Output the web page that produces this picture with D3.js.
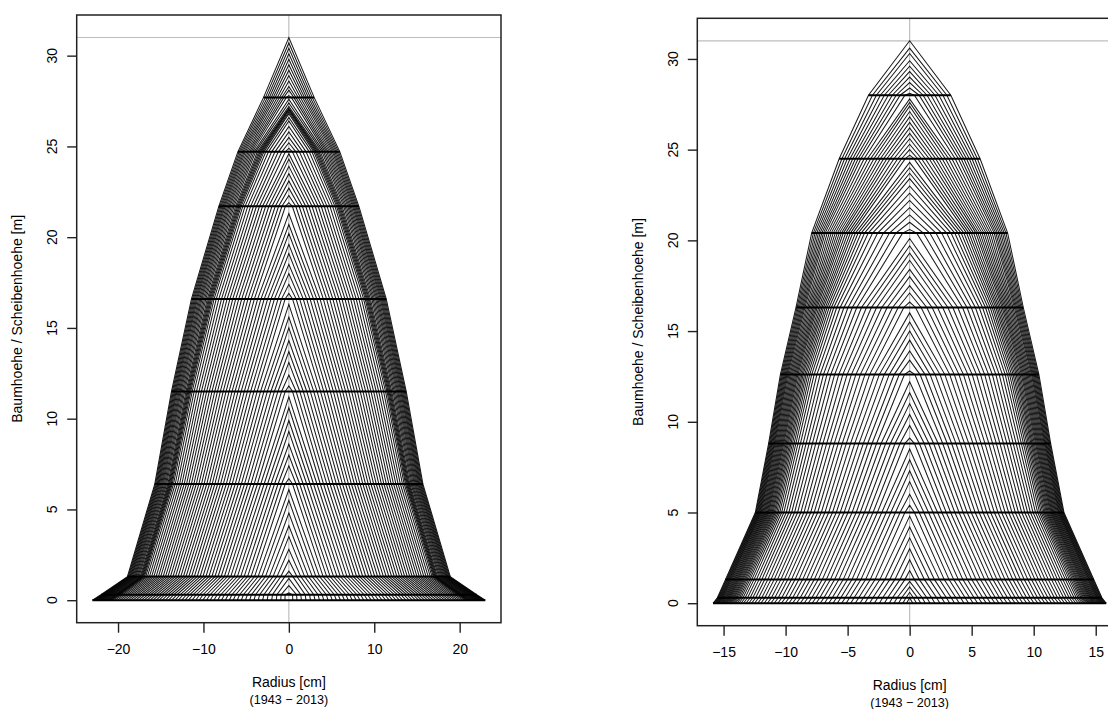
<!doctype html>
<html>
<head>
<meta charset="utf-8">
<style>
  body { margin: 0; background: #fff; }
  text { font-family: "Liberation Sans", Arial, sans-serif; fill: #000; }
</style>
<script src="https://d3js.org/d3.v7.min.js"></script>
</head>
<body>
<svg width="1108" height="709"></svg>
<script>

// years of the ring series (1943 - 2013)
var years = d3.range(1943, 2014);

// left tree: disk heights [m] and final disk radii [cm]
var leftDiskHeights = [0, 0.3, 1.3, 6.4, 11.5, 16.6, 21.7, 24.7, 27.7];
var leftDiskRadii   = [23.0, 22.0, 18.9, 15.7, 13.74, 11.4, 8.2, 5.97, 2.96];
// tree height per year [m]
var leftTreeHeights = [
  0.4, 0.8, 1.2,
  1.6, 2.2, 2.8, 3.5, 4.1, 4.8, 5.5, 6.1,
  6.7, 7.4, 8.0, 8.6, 9.3, 9.9, 10.6, 11.2,
  11.8, 12.4, 13.1, 13.7, 14.3, 15.0, 15.6, 16.3,
  16.9, 17.4, 18.0, 18.5, 19.1, 19.6, 20.2, 20.7, 21.3,
  21.9, 22.3, 22.7, 23.1, 23.5, 23.9, 24.3, 24.6,
  24.9, 25.2, 25.5, 25.8, 26.1, 26.4, 26.6, 26.8,
  26.9, 27.0, 27.05, 27.1, 27.2,
  27.4, 27.6, 27.8, 28.1, 28.3, 28.6, 28.9, 29.2, 29.5, 29.8, 30.1, 30.4, 30.7, 31.0
];
// ring width index per year [mm]
var leftRingWidths = [
  3.0, 3.2, 3.4,
  3.5, 3.5, 3.4, 3.4, 3.3, 3.3, 3.2, 3.2,
  3.1, 3.1, 3.0, 3.0, 3.0, 2.9, 2.9, 2.9,
  2.8, 2.8, 2.8, 2.7, 2.7, 2.7, 2.6, 2.6,
  2.6, 2.5, 2.5, 2.5, 2.4, 2.4, 2.4, 2.3, 2.3,
  2.3, 2.3, 2.2, 2.2, 2.2, 2.1, 2.1, 2.1,
  2.0, 2.0, 2.0, 1.9, 1.9, 1.8, 1.5, 1.1,
  0.8, 0.7, 0.7, 0.7, 0.8,
  1.0, 0.9, 0.9, 0.9, 0.8, 0.8, 0.8, 0.8, 0.7, 0.7, 0.7, 0.7, 0.7, 0.7
];
var leftXTicks = [-20, -10, 0, 10, 20];

// right tree
var rightDiskHeights = [0, 0.3, 1.3, 5.0, 8.8, 12.6, 16.3, 20.4, 24.5, 28.0];
var rightDiskRadii   = [15.85, 15.5, 14.85, 12.44, 11.37, 10.42, 9.16, 7.9, 5.68, 3.32];
var rightTreeHeights = [
  0.3, 0.6, 0.9, 1.2,
  1.8, 2.4, 3.0, 3.6, 4.2, 4.8,
  5.4, 6.0, 6.7, 7.3, 7.9, 8.5,
  9.1, 9.8, 10.4, 11.0, 11.6, 12.2,
  12.8, 13.4, 13.9, 14.5, 15.0, 15.5, 16.0,
  16.6, 17.1, 17.5, 18.0, 18.4, 18.9, 19.3, 19.7, 20.1,
  20.6, 21.0, 21.4, 21.8, 22.2, 22.6, 23.0, 23.4, 23.7, 24.0, 24.3,
  24.7, 25.0, 25.3, 25.6, 25.9, 26.2, 26.5, 26.8, 27.1, 27.4, 27.6, 27.8,
  28.1, 28.4, 28.7, 29.0, 29.3, 29.6, 29.9, 30.3, 30.6, 31.0
];
var rightRingWidths = [
  2.2, 2.6, 3.0, 3.2,
  3.3, 3.4, 3.5, 3.5, 3.4, 3.4,
  3.3, 3.3, 3.2, 3.2, 3.1, 3.1,
  3.0, 3.0, 3.0, 2.9, 2.9, 2.8,
  2.8, 2.8, 2.7, 2.7, 2.7, 2.6, 2.6,
  2.6, 2.5, 2.5, 2.4, 2.4, 2.3, 2.3, 2.2, 2.2,
  2.1, 2.0, 1.9, 1.8, 1.7, 1.5, 1.3, 1.1, 1.0, 0.9, 0.8,
  0.8, 0.7, 0.7, 0.7, 0.7, 0.6, 0.6, 0.6, 0.6, 0.6, 0.6, 0.6,
  0.6, 0.6, 0.5, 0.5, 0.5, 0.5, 0.5, 0.5, 0.5, 0.5
];
var rightXTicks = [-15, -10, -5, 0, 5, 10, 15];

var yTicks = [0, 5, 10, 15, 20, 25, 30];

var svg = d3.select("svg");
var minus = function(v) { return v < 0 ? "\u2212" + Math.abs(v) : "" + v; };

function drawPanel(p) {
    var maxR = d3.max(p.radii), topH = d3.max(p.heights);
    var x = d3.scaleLinear().domain([-maxR * 1.08, maxR * 1.08]).range([p.left, p.right]);
    var y = d3.scaleLinear().domain([-topH * 0.04, topH * 1.04]).range([p.bottom, p.top]);

    // radius of every disk in every year: rings laid down since the
    // tree first passed the disk height, scaled to the final radius
    var radius = p.disks.map(function(h, i) {
        var start = p.heights.findIndex(function(v) { return v > h; });
        var cum = [], s = 0;
        years.forEach(function(yr, t) {
            if (t < start) { cum.push(null); return; }
            s += p.rings[t];
            cum.push(s);
        });
        return cum.map(function(c) { return c == null ? null : p.radii[i] * c / s; });
    });

    var profiles = years.map(function(yr, t) {
        var side = [];
        p.disks.forEach(function(h, i) {
            if (radius[i][t] != null && p.heights[t] > h) side.push([radius[i][t], h]);
        });
        var pts = side.map(function(d) { return [-d[0], d[1]]; });
        pts.push([0, p.heights[t]]);
        side.slice().reverse().forEach(function(d) { pts.push(d); });
        return pts;
    });

    var g = svg.append("g");
    var clipId = "clip" + Math.round(p.left);
    g.append("clipPath").attr("id", clipId).append("rect")
     .attr("x", p.left).attr("y", p.top)
     .attr("width", p.right - p.left).attr("height", p.bottom - p.top);

    var plot = g.append("g").attr("clip-path", "url(#" + clipId + ")");

    plot.append("line")
        .attr("x1", p.left).attr("x2", p.right)
        .attr("y1", y(topH)).attr("y2", y(topH))
        .attr("stroke", "#bebebe").attr("stroke-width", 1.2);
    plot.append("line")
        .attr("x1", x(0)).attr("x2", x(0))
        .attr("y1", p.top).attr("y2", p.bottom)
        .attr("stroke", "#bebebe").attr("stroke-width", 1.2);

    var line = d3.line().x(function(d) { return x(d[0]); }).y(function(d) { return y(d[1]); });

    plot.selectAll(".profile")
        .data(profiles).enter()
        .append("path")
        .attr("class", "profile")
        .attr("d", line)
        .attr("fill", "none")
        .attr("stroke", "#000")
        .attr("stroke-opacity", 0.9)
        .attr("stroke-width", 1.05)
        .attr("stroke-linejoin", "miter");

    plot.selectAll(".disk")
        .data(p.disks).enter()
        .append("line")
        .attr("class", "disk")
        .attr("x1", function(d, i) { return x(-p.radii[i]); })
        .attr("x2", function(d, i) { return x(p.radii[i]); })
        .attr("y1", function(d) { return y(d); })
        .attr("y2", function(d) { return y(d); })
        .attr("stroke", "#000")
        .attr("stroke-width", 2);

    // frame
    g.append("rect")
     .attr("x", p.left).attr("y", p.top)
     .attr("width", p.right - p.left).attr("height", p.bottom - p.top)
     .attr("fill", "none").attr("stroke", "#222").attr("stroke-width", 1.5);

    // x axis
    var xa = g.append("g")
      .attr("transform", "translate(0," + p.bottom + ")")
      .call(d3.axisBottom(x).tickValues(p.xTicks).tickSize(10).tickPadding(11).tickFormat(minus));
    xa.select(".domain").remove();
    xa.selectAll("line").attr("stroke", "#222").attr("stroke-width", 1.4);
    xa.selectAll("text").attr("font-size", "14px").attr("fill", "#000")
      .style("font-family", '"Liberation Sans", Arial, sans-serif');

    // y axis (labels parallel to axis)
    var ya = g.append("g")
      .attr("transform", "translate(" + p.left + ",0)")
      .call(d3.axisLeft(y).tickValues(yTicks).tickSize(9.5).tickFormat(""));
    ya.select(".domain").remove();
    ya.selectAll("line").attr("stroke", "#222").attr("stroke-width", 1.4);

    g.selectAll(".ylab")
     .data(yTicks).enter()
     .append("text")
     .attr("transform", function(d) { return "translate(" + (p.left - 19.5) + "," + y(d) + ") rotate(-90)"; })
     .attr("text-anchor", "middle")
     .attr("font-size", "14px")
     .text(function(d) { return d; });

    g.append("text")
     .attr("transform", "translate(" + (p.left - 54.5) + "," + ((p.top + p.bottom) / 2) + ") rotate(-90)")
     .attr("text-anchor", "middle")
     .attr("font-size", "14px")
     .text("Baumhoehe / Scheibenhoehe [m]");

    g.append("text")
     .attr("x", x(0)).attr("y", p.bottom + 64.5)
     .attr("text-anchor", "middle")
     .attr("font-size", "14px")
     .text("Radius [cm]");

    g.append("text")
     .attr("x", x(0)).attr("y", p.bottom + 81)
     .attr("text-anchor", "middle")
     .attr("font-size", "12.6px")
     .text("(" + years[0] + " \u2212 " + years[years.length - 1] + ")");
}

drawPanel({
    left: 76.7, right: 501, top: 15, bottom: 622.7,
    disks: leftDiskHeights, radii: leftDiskRadii,
    heights: leftTreeHeights, rings: leftRingWidths, xTicks: leftXTicks
});

drawPanel({
    left: 697.3, right: 1122, top: 18.3, bottom: 625.7,
    disks: rightDiskHeights, radii: rightDiskRadii,
    heights: rightTreeHeights, rings: rightRingWidths, xTicks: rightXTicks
});

</script>
</body>
</html>
